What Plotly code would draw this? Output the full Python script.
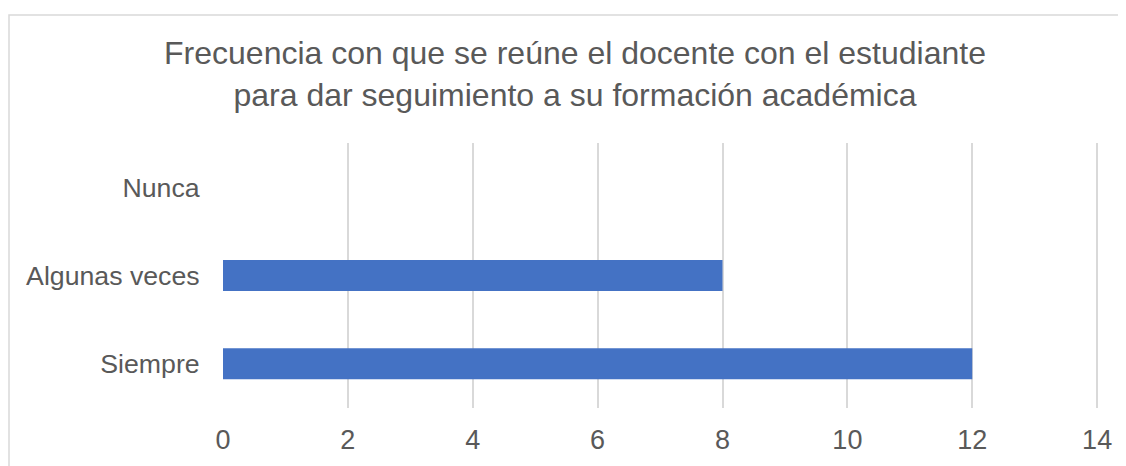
import plotly.graph_objects as go

categories = ["Siempre", "Algunas veces", "Nunca"]
values = [12, 8, 0]
x_ticks = [0, 2, 4, 6, 8, 10, 12, 14]
title_text = "Frecuencia con que se reúne el docente con el estudiante<br>para dar seguimiento a su formación académica"

FONT = "Liberation Sans, Arial, sans-serif"
GRAY = "#595959"
# page body adds an 8px offset, so the figure is 8px smaller than the window
W, H = 1118, 458
L, R, T, B = 215, 27, 135, 58

fig = go.Figure(go.Bar(
    y=categories, x=values, orientation="h",
    marker=dict(color="#4472C4", line=dict(width=0)),
    hoverinfo="x+y",
))

pw = W - L - R
ph = H - T - B
bx, by = 1, 7
fig.add_shape(type="rect", xref="paper", yref="paper",
              x0=(bx - L) / pw, x1=(W + 20 - L) / pw,
              y0=-(H + 20 - T - ph) / ph, y1=(T + ph - by) / ph,
              line=dict(color="#d9d9d9", width=1.5), fillcolor="rgba(0,0,0,0)", layer="below")

fig.update_layout(
    width=W, height=H,
    margin=dict(l=L, r=R, t=T, b=B, pad=0),
    paper_bgcolor="white", plot_bgcolor="white",
    bargap=0.65,
    showlegend=False,
    title=dict(text=title_text, font=dict(family=FONT, size=32, color=GRAY),
               xref="container", x=567 / W, xanchor="center",
               yref="container", y=1 - 56 / H, yanchor="top"),
    xaxis=dict(range=[0, 14.03], tickvals=x_ticks, showgrid=True, gridcolor="#d9d9d9", gridwidth=1.5,
               zeroline=False, showline=False, ticks="outside", ticklen=8, tickcolor="rgba(0,0,0,0)",
               tickfont=dict(family=FONT, size=27, color=GRAY)),
    yaxis=dict(categoryorder="array", categoryarray=categories, showgrid=False, zeroline=False,
               showline=False, ticks="outside", ticklen=17, tickcolor="rgba(0,0,0,0)",
               tickfont=dict(family=FONT, size=26.7, color=GRAY)),
)

fig.write_html("out.html")
